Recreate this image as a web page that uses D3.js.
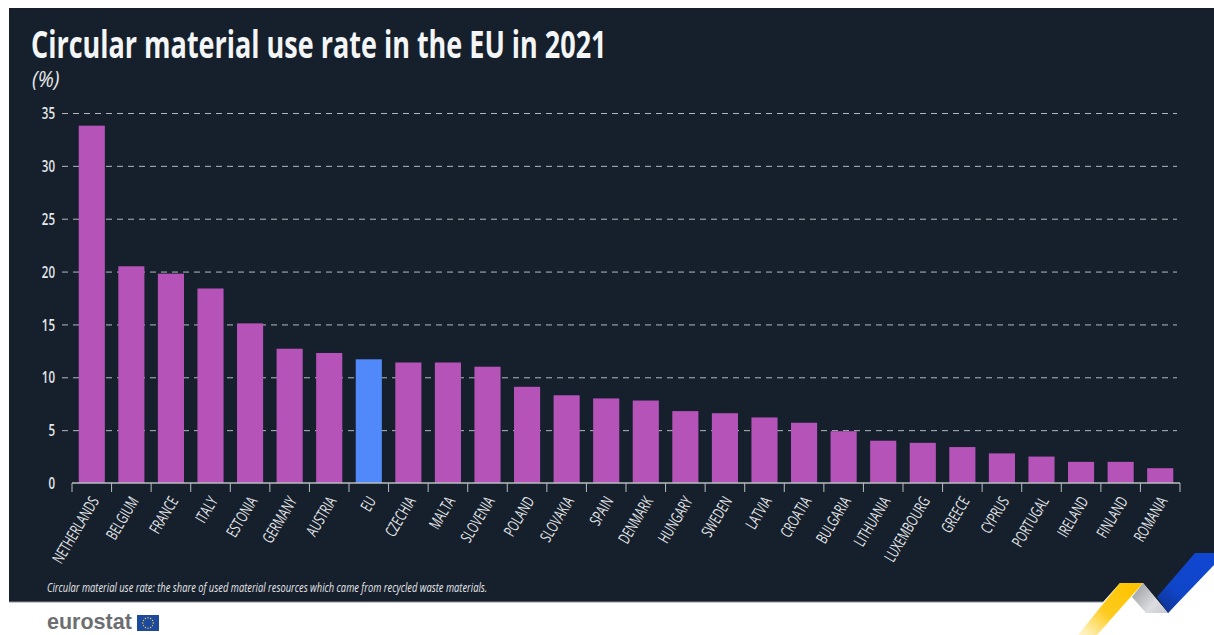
<!DOCTYPE html>
<html>
<head>
<meta charset="utf-8">
<script src="https://cdn.jsdelivr.net/npm/d3@7"></script>
<style>
html,body{margin:0;padding:0;background:#fff;overflow:hidden}
svg{display:block}
text{font-family:"Open Sans",sans-serif}
</style>
</head>
<body>
<svg id="chart" width="1214" height="635"></svg>
<script>
// Circular material use rate, EU members and EU aggregate, 2021 (%)
const countries = ["NETHERLANDS","BELGIUM","FRANCE","ITALY","ESTONIA","GERMANY","AUSTRIA","EU","CZECHIA","MALTA","SLOVENIA","POLAND","SLOVAKIA","SPAIN","DENMARK","HUNGARY","SWEDEN","LATVIA","CROATIA","BULGARIA","LITHUANIA","LUXEMBOURG","GREECE","CYPRUS","PORTUGAL","IRELAND","FINLAND","ROMANIA"];
const rates = [33.8,20.5,19.8,18.4,15.1,12.7,12.3,11.7,11.4,11.4,11.0,9.1,8.3,8.0,7.8,6.8,6.6,6.2,5.7,4.9,4.0,3.8,3.4,2.8,2.5,2.0,2.0,1.4];
const yTicks = [0,5,10,15,20,25,30,35];
const titleText = "Circular material use rate in the EU in 2021";
const unitText = "(%)";
const noteText = "Circular material use rate: the share of used material resources which came from recycled waste materials.";

const colors = {panel:"#16202d", bar:"#b553b9", eu:"#5189fb", text:"#e6e8ea", grid:"#b4b8bc", axis:"#b9bcc0"};
const data = countries.map((name,i)=>({name,value:rates[i]}));
const svg = d3.select("#chart");

// Gradients for the corner ribbons
const defs = svg.append("defs");
function gradient(id,x1,y1,x2,y2,stops){
  const g = defs.append("linearGradient").attr("id",id).attr("gradientUnits","userSpaceOnUse")
    .attr("x1",x1).attr("y1",y1).attr("x2",x2).attr("y2",y2);
  stops.forEach(([o,c])=>g.append("stop").attr("offset",o).attr("stop-color",c));
}
gradient("ribbonBlue",1205,553,1160,610,[[0,"#1146d2"],[0.65,"#0f45c8"],[1,"#0f3391"]]);
gradient("ribbonYellow",1130,583,1085,635,[[0,"#ffc400"],[0.55,"#fdcb1e"],[1,"#fff3c4"]]);
gradient("ribbonGrey",1138,590,1165,612,[[0,"#a9abae"],[0.6,"#dcdde0"],[1,"#c9ccd2"]]);

// Dark panel with its cut lower-right corner
svg.append("path")
  .attr("d","M9,8H1214V560L1168,613L1143,583H1120L1103,602H9Z")
  .attr("fill",colors.panel);
svg.append("line").attr("x1",9).attr("x2",1103).attr("y1",602).attr("y2",602)
  .attr("stroke","#8d9197").attr("stroke-width",1);

// Ribbons
svg.append("path").attr("d","M1132,597L1143,583L1168,613H1146Z").attr("fill","url(#ribbonGrey)");
svg.append("path").attr("d","M1120,583H1143L1097,635H1078Z").attr("fill","url(#ribbonYellow)");
svg.append("path").attr("d","M1195,553H1214V565L1168,613L1157,597Z").attr("fill","url(#ribbonBlue)");

// Scales
const x = d3.scaleBand().domain(countries).range([72,1180]).paddingInner(0.34).paddingOuter(0.17);
const y = d3.scaleLinear().domain([0,35]).range([483,113]);

// Value axis and dashed grid
const yAxis = svg.append("g").attr("transform","translate(62,0)")
  .call(d3.axisLeft(y).tickValues(yTicks).tickSize(0).tickPadding(0));
yAxis.select(".domain").remove();
yAxis.selectAll(".tick text").remove();
yAxis.selectAll(".tick").filter(d=>d>0).append("line")
  .attr("x1",0).attr("x2",1115)
  .attr("stroke",colors.grid).attr("stroke-width",1).attr("stroke-dasharray","6 5");
yAxis.selectAll(".tick").append("text")
  .attr("transform","translate(-7,0) scale(0.72,1)")
  .attr("dy","0.35em").attr("text-anchor","end")
  .attr("fill",colors.text).attr("font-size",16).attr("font-weight",600)
  .text(d=>d);

// Bars
svg.append("g").selectAll("rect").data(data).join("rect")
  .attr("x",d=>x(d.name)).attr("width",x.bandwidth())
  .attr("y",d=>y(d.value)).attr("height",d=>y(0)-y(d.value))
  .attr("fill",d=>d.name==="EU"?colors.eu:colors.bar);

// Category axis: ticks sit on the band boundaries, labels run up to them at an angle
const xAxis = svg.append("g").attr("transform",`translate(0,${y(0)})`);
xAxis.append("line").attr("x1",x.range()[0]).attr("x2",x.range()[1])
  .attr("stroke",colors.axis).attr("stroke-width",1.5);
const edges = countries.map(c=>x(c)-x.step()*x.paddingInner()/2).concat(x.range()[1]);
xAxis.selectAll("line.edge").data(edges).join("line").attr("class","edge")
  .attr("x1",d=>d).attr("x2",d=>d).attr("y1",0).attr("y2",9)
  .attr("stroke",colors.axis).attr("stroke-width",1);
xAxis.selectAll("text").data(countries).join("text")
  .attr("transform",d=>`translate(${x(d)+x.bandwidth()/2+3},15) rotate(-59) scale(0.67,1)`)
  .attr("text-anchor","end").attr("dy","0.35em")
  .attr("fill",colors.text).attr("font-size",16).attr("font-weight",500)
  .text(d=>d);

// Heading, unit and note
svg.append("text").attr("transform","translate(31,58) scale(0.72,1)")
  .attr("fill","#f4f5f6").attr("font-size",37.5).attr("font-weight",700).text(titleText);
svg.append("text").attr("transform","translate(32,87) scale(0.92,1)")
  .attr("fill",colors.text).attr("font-size",22).attr("font-style","italic").text(unitText);
svg.append("text").attr("transform","translate(47,592) scale(0.72,1)")
  .attr("fill",colors.text).attr("font-size",13).attr("font-style","italic").text(noteText);

// Publisher mark with flag
svg.append("text").attr("x",47).attr("y",629)
  .attr("fill","#6d6e71").attr("font-size",21.5).attr("font-weight",700)
  .style("font-family","'Liberation Sans',sans-serif").text("eurostat");
svg.append("rect").attr("x",137).attr("y",615).attr("width",22).attr("height",16).attr("fill","#1d4a9c");
svg.append("g").selectAll("circle").data(d3.range(12)).join("circle")
  .attr("cx",d=>148+5.2*Math.cos(d*Math.PI/6))
  .attr("cy",d=>623+5.2*Math.sin(d*Math.PI/6))
  .attr("r",0.7).attr("fill","#f6d33c");
</script>
</body>
</html>
